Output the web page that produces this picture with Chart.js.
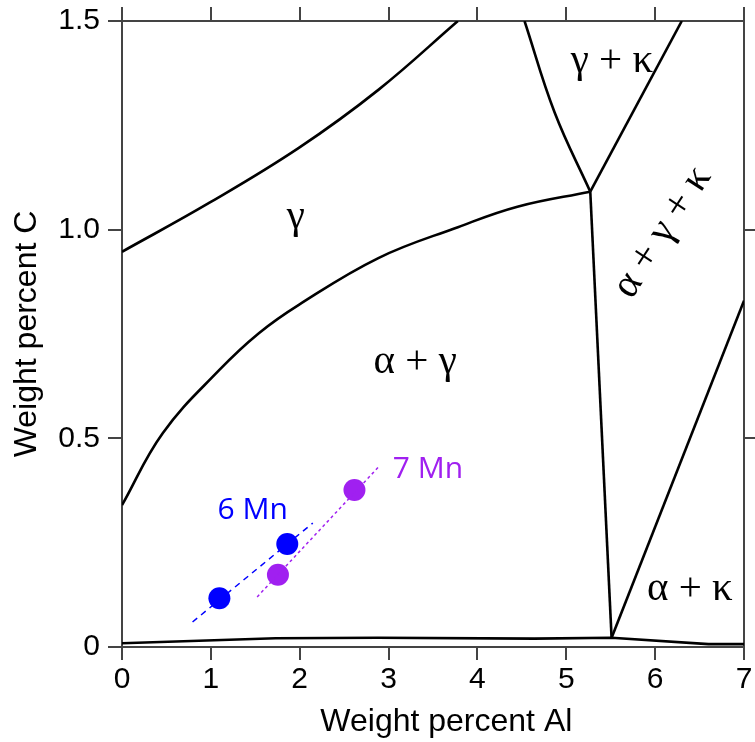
<!DOCTYPE html>
<html>
<head>
<meta charset="utf-8">
<script src="https://cdn.jsdelivr.net/npm/chart.js@4.4.1/dist/chart.umd.min.js"></script>
<style>
  html, body { margin: 0; padding: 0; background: #fff; }
  #wrap { width: 755px; height: 742px; }
</style>
</head>
<body>
<div id="wrap"><canvas id="phaseChart"></canvas></div>
<script>
// #-------------- Phase diagram data (weight % Al, weight % C) --------------#

// Phase boundaries
const gammaUpperBoundary = [[0, 0.947], [0.98, 1.064], [1.99, 1.196], [2.885, 1.335], [3.78, 1.5]];
const alphaGammaBoundary = [[0, 0.340], [0.46, 0.513], [1.096, 0.664], [1.54, 0.752],
                            [1.99, 0.820], [2.885, 0.932], [3.78, 1.006], [4.45, 1.055], [5.27, 1.091]];
const gammaKappaLeft     = [[4.53, 1.5], [4.87, 1.28], [5.27, 1.091]];
const gammaKappaRight    = [[5.27, 1.091], [6.30, 1.5]];
const threePhaseLeft     = [[5.27, 1.091], [5.51, 0.022]];
const alphaKappaUpper    = [[5.51, 0.022], [7, 0.83]];
const alphaLowerBoundary = [[0, 0.009], [1.73, 0.021], [2.88, 0.022], [4.64, 0.020], [5.51, 0.022],
                            [6.6, 0.007], [7, 0.007]];

// Measured alloys
const mn6Points = [[1.096, 0.117], [1.86, 0.247]];
const mn7Points = [[1.755, 0.173], [2.616, 0.376]];
const mn6Trend  = [[0.794, 0.060], [2.147, 0.297]];
const mn7Trend  = [[1.521, 0.120], [2.885, 0.431]];

// Axis ticks
const alTicks = [0, 1, 2, 3, 4, 5, 6, 7];
const cTicks  = [0, 0.5, 1.0, 1.5];

// Region and series labels: [text, Al, C]
const phaseLabels = [['γ', 1.957, 1.004], ['α + γ', 3.299, 0.657], ['γ + κ', 5.513, 1.378], ['α + κ', 6.390, 0.113]];
const tiltedLabel = ['α + γ + κ', 6.083, 0.994];
const seriesLabels = [['6 Mn', 1.470, 0.326, '#0000ff'], ['7 Mn', 3.444, 0.4265, '#a020f0']];

// #-------------- Helpers --------------#

const toXY = pairs => pairs.map(p => ({ x: p[0], y: p[1] }));

function boundary(pairs, tension) {
    return {
        data: toXY(pairs),
        showLine: true,
        borderColor: '#000',
        borderWidth: 2.6,
        pointRadius: 0,
        tension: tension,
    };
}

// Draws the phase region names and series names in data coordinates
const labelPlugin = {
    id: 'phaseLabels',
    afterDatasetsDraw(chart) {
        const { ctx, scales: { x, y } } = chart;
        ctx.save();
        ctx.fillStyle = '#000';
        ctx.font = '41px "Liberation Serif", "Times New Roman", serif';
        ctx.textAlign = 'center';
        ctx.textBaseline = 'alphabetic';
        phaseLabels.forEach(l => ctx.fillText(l[0], x.getPixelForValue(l[1]), y.getPixelForValue(l[2])));

        ctx.save();
        ctx.translate(x.getPixelForValue(tiltedLabel[1]), y.getPixelForValue(tiltedLabel[2]));
        ctx.rotate(-57 * Math.PI / 180);
        ctx.textBaseline = 'middle';
        ctx.fillText(tiltedLabel[0], 0, 0);
        ctx.restore();

        ctx.font = '30px "Open Sans", sans-serif';
        ctx.textBaseline = 'middle';
        seriesLabels.forEach(l => {
            ctx.fillStyle = l[3];
            ctx.fillText(l[0], x.getPixelForValue(l[1]), y.getPixelForValue(l[2]));
        });
        ctx.restore();
    }
};

const axisColor = '#444';
const tickFont = { family: '"Liberation Sans", Arial, sans-serif', size: 30 };
const titleFont = { family: '"Liberation Sans", Arial, sans-serif', size: 32 };

function frameGrid(len, hidden) {
    return {
        drawOnChartArea: false,
        drawTicks: true,
        tickLength: len,
        lineWidth: 2,
        color: ctx => (hidden && ctx.tick && hidden.includes(ctx.tick.value)) ? 'rgba(0,0,0,0)' : axisColor,
    };
}

// #-------------- Chart --------------#

new Chart(document.getElementById('phaseChart'), {
    type: 'scatter',
    data: {
        datasets: [
            boundary(gammaUpperBoundary, 0.4),
            boundary(alphaGammaBoundary, 0.4),
            boundary(gammaKappaLeft, 0.4),
            boundary(gammaKappaRight, 0),
            boundary(threePhaseLeft, 0),
            boundary(alphaKappaUpper, 0),
            boundary(alphaLowerBoundary, 0),
            {
                data: toXY(mn6Trend), showLine: true, pointRadius: 0,
                borderColor: '#0000ff', borderWidth: 1.5, borderDash: [6, 5],
            },
            {
                data: toXY(mn7Trend), showLine: true, pointRadius: 0,
                borderColor: '#a020f0', borderWidth: 1.5, borderDash: [3, 3],
            },
            {
                data: toXY(mn6Points), pointRadius: 11, borderWidth: 0,
                backgroundColor: '#0000ff', pointBackgroundColor: '#0000ff',
            },
            {
                data: toXY(mn7Points), pointRadius: 11, borderWidth: 0,
                backgroundColor: '#a020f0', pointBackgroundColor: '#a020f0',
            },
        ],
    },
    options: {
        responsive: true,
        maintainAspectRatio: false,
        animation: false,
        layout: { padding: 0 },
        plugins: { legend: { display: false }, tooltip: { enabled: false } },
        scales: {
            x: {
                type: 'linear', position: 'bottom', min: 0, max: 7,
                afterBuildTicks: s => { s.ticks = alTicks.map(v => ({ value: v })); },
                afterFit: s => { s.height = 95; s.paddingRight = 0; s.paddingLeft = 0; },
                ticks: { color: '#000', font: tickFont, padding: 2, maxRotation: 0 },
                grid: frameGrid(13),
                border: { display: true, color: axisColor, width: 2 },
                title: { display: true, text: '   Weight percent Al', color: '#000', font: titleFont,
                         padding: { top: 0, bottom: 1 } },
            },
            x2: {
                type: 'linear', position: 'top', min: 0, max: 7,
                afterBuildTicks: s => { s.ticks = alTicks.map(v => ({ value: v })); },
                afterFit: s => { s.height = 21; s.paddingRight = 0; s.paddingLeft = 0; },
                ticks: { display: false },
                grid: frameGrid(14),
                border: { display: true, color: axisColor, width: 2 },
            },
            y: {
                type: 'linear', position: 'left', min: 0, max: 1.5,
                afterBuildTicks: s => { s.ticks = cTicks.map(v => ({ value: v })); },
                afterFit: s => { s.width = 122; s.paddingTop = 0; s.paddingBottom = 0; },
                ticks: { color: '#000', font: tickFont, padding: 8,
                         callback: v => v === 0 ? '0' : v.toFixed(1) },
                grid: frameGrid(14),
                border: { display: true, color: axisColor, width: 2 },
                title: { display: true, text: 'Weight percent C', color: '#000', font: titleFont,
                         padding: { top: 8, bottom: 0 } },
            },
            y2: {
                type: 'linear', position: 'right', min: 0, max: 1.5,
                afterBuildTicks: s => { s.ticks = cTicks.map(v => ({ value: v })); },
                afterFit: s => { s.width = 7; s.paddingTop = 0; s.paddingBottom = 0; },
                ticks: { display: false },
                grid: frameGrid(13, [0, 1.5]),
                border: { display: true, color: axisColor, width: 2 },
            },
        },
    },
    plugins: [labelPlugin],
});
</script>
</body>
</html>
